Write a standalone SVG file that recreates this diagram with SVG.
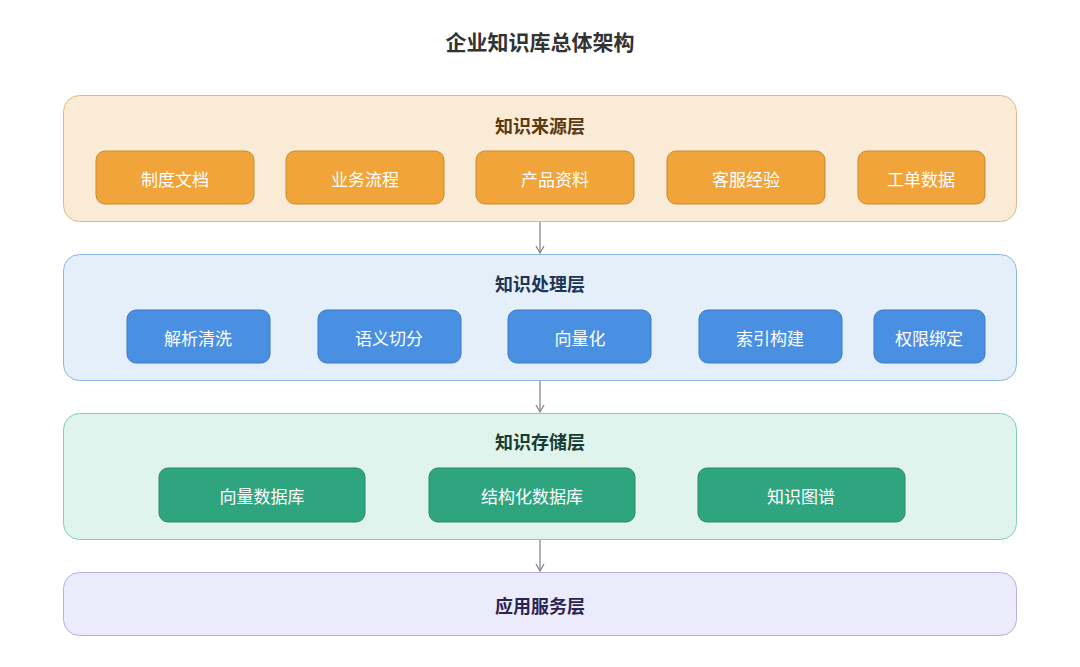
<svg xmlns="http://www.w3.org/2000/svg" width="1080" height="667" viewBox="0 0 1080 667">
<defs>
<marker id="ah" markerWidth="10" markerHeight="10" refX="8" refY="5" orient="auto" markerUnits="userSpaceOnUse"><path d="M1,1 L8,5 L1,9" fill="none" stroke="#888" stroke-width="1.3"/></marker>
</defs>
<style>
text{font-family:"Noto Sans CJK SC",sans-serif;text-anchor:middle;dominant-baseline:central}
.t{font-size:21px;font-weight:bold;fill:#333}
.lt{font-size:18px;font-weight:bold}
.b{font-size:17px;fill:#fff}
.o{fill:#f0a43a;stroke:#c98a2e}
.bl{fill:#4a90e2;stroke:#3b7ac4}
.g{fill:#2fa57f;stroke:#268a6a}
</style>
<rect width="1080" height="667" fill="#fff"/>
<text class="t" x="540" y="41">企业知识库总体架构</text>
<g id="connectors" stroke="#888" stroke-width="1.3" marker-end="url(#ah)">
<line x1="540" y1="221" x2="540" y2="253"/>
<line x1="540" y1="380" x2="540" y2="412"/>
<line x1="540" y1="539" x2="540" y2="571"/>
</g>
<g id="layer1">
<rect x="63.5" y="95.5" width="953" height="126" rx="16" fill="#faebd7" stroke="#e0b88a"/>
<text class="lt" x="540" y="125" fill="#5a3a10">知识来源层</text>
</g>
<g id="n1"><rect class="o" x="96" y="151" width="158" height="53" rx="9"/><text class="b" x="175" y="178">制度文档</text></g>
<g id="n2"><rect class="o" x="286" y="151" width="158" height="53" rx="9"/><text class="b" x="365" y="178">业务流程</text></g>
<g id="n3"><rect class="o" x="476" y="151" width="158" height="53" rx="9"/><text class="b" x="555" y="178">产品资料</text></g>
<g id="n4"><rect class="o" x="667" y="151" width="158" height="53" rx="9"/><text class="b" x="746" y="178">客服经验</text></g>
<g id="n5"><rect class="o" x="858" y="151" width="127" height="53" rx="9"/><text class="b" x="921" y="178">工单数据</text></g>
<g id="layer2">
<rect x="63.5" y="254.5" width="953" height="126" rx="16" fill="#e4effa" stroke="#8ab6e6"/>
<text class="lt" x="540" y="283" fill="#1d3557">知识处理层</text>
</g>
<g id="p1"><rect class="bl" x="127" y="310" width="143" height="53" rx="9"/><text class="b" x="198" y="337">解析清洗</text></g>
<g id="p2"><rect class="bl" x="318" y="310" width="143" height="53" rx="9"/><text class="b" x="389" y="337">语义切分</text></g>
<g id="p3"><rect class="bl" x="508" y="310" width="143" height="53" rx="9"/><text class="b" x="580" y="337">向量化</text></g>
<g id="p4"><rect class="bl" x="699" y="310" width="143" height="53" rx="9"/><text class="b" x="770" y="337">索引构建</text></g>
<g id="p5"><rect class="bl" x="874" y="310" width="111" height="53" rx="9"/><text class="b" x="929" y="337">权限绑定</text></g>
<g id="layer3">
<rect x="63.5" y="413.5" width="953" height="126" rx="16" fill="#e0f3ec" stroke="#82cfb2"/>
<text class="lt" x="540" y="441" fill="#163d30">知识存储层</text>
</g>
<g id="s1"><rect class="g" x="159" y="468" width="206" height="54" rx="9"/><text class="b" x="262" y="495">向量数据库</text></g>
<g id="s2"><rect class="g" x="429" y="468" width="206" height="54" rx="9"/><text class="b" x="532" y="495">结构化数据库</text></g>
<g id="s3"><rect class="g" x="698" y="468" width="207" height="54" rx="9"/><text class="b" x="801" y="495">知识图谱</text></g>
<g id="layer4">
<rect x="63.5" y="572.5" width="953" height="63" rx="16" fill="#ecebfb" stroke="#b5aee6"/>
<text class="lt" x="540" y="605" fill="#2a2550">应用服务层</text>
</g>
</svg>
